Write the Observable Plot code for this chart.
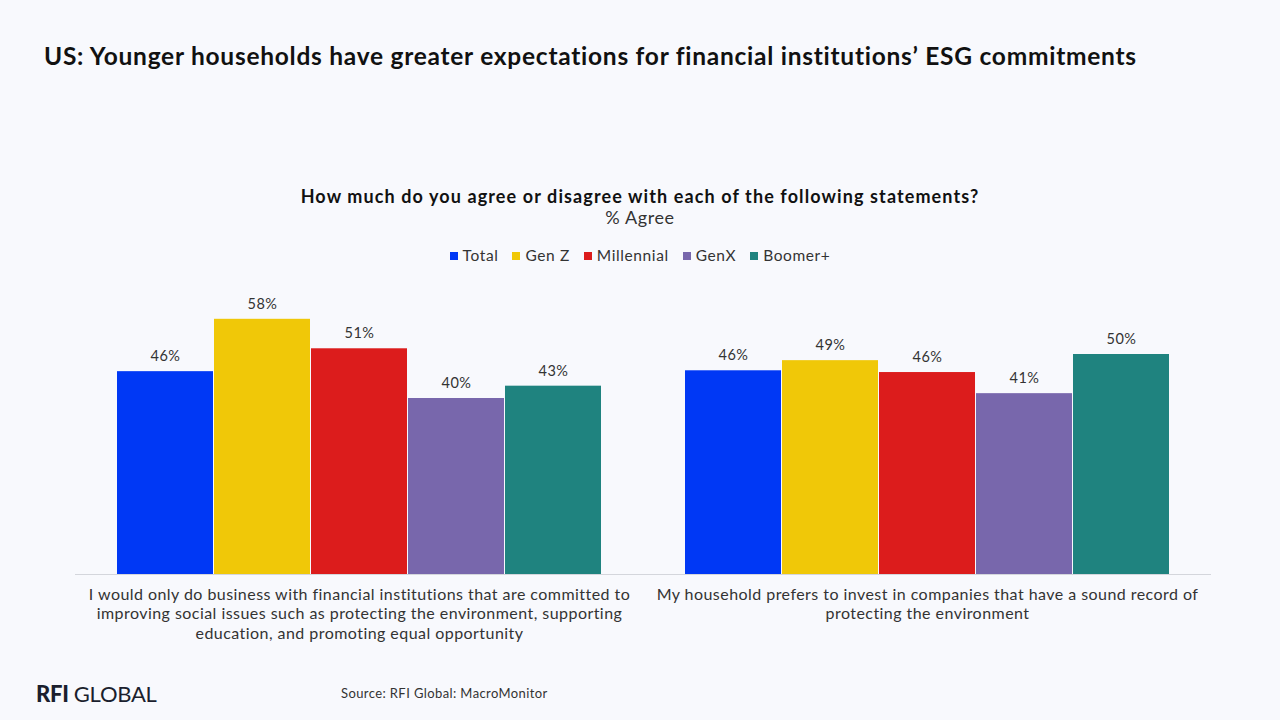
<!DOCTYPE html>
<html>
<head>
<meta charset="utf-8">
<script src="https://cdn.jsdelivr.net/npm/d3@7"></script>
<script src="https://cdn.jsdelivr.net/npm/@observablehq/plot@0.6"></script>
<style>
  html, body { margin: 0; padding: 0; }
  body { width: 1280px; height: 720px; background: #f8f9fd; position: relative; overflow: hidden; font-family: Lato, "Open Sans", sans-serif; color: #222; }
  #title { position: absolute; left: 44px; top: 41px; font-size: 24.5px; font-weight: 700; color: #111; white-space: nowrap; letter-spacing: 0.74px; }
  #sub { position: absolute; left: 0; width: 1280px; top: 185px; text-align: center; font-size: 18px; font-weight: 700; color: #111; letter-spacing: 1.1px; white-space: nowrap; }
  #sub2 { position: absolute; left: 0; width: 1280px; top: 206px; text-align: center; font-size: 18px; color: #333; letter-spacing: 0.6px; }
  #legend { position: absolute; left: 0; width: 1280px; top: 246px; text-align: center; font-size: 15.5px; color: #333; letter-spacing: 0.6px; }
  #legend span.item { margin: 0 7px; white-space: nowrap; }
  #legend span.sw { display: inline-block; width: 8px; height: 8px; margin-right: 5px; vertical-align: 1px; }
  #chart { position: absolute; left: 0; top: 280px; }
  #logo { position: absolute; left: 36px; top: 680px; font-size: 22px; color: #1b1f2e; letter-spacing: -0.3px; }
  #logo b { font-weight: 900; }
  #source { position: absolute; left: 341px; top: 685px; font-size: 13px; color: #333; letter-spacing: 0.4px; }
</style>
</head>
<body>
<div id="title">US: Younger households have greater expectations for financial institutions’ ESG commitments</div>
<div id="sub">How much do you agree or disagree with each of the following statements?</div>
<div id="sub2">% Agree</div>
<div id="legend"></div>
<div id="chart"></div>
<div id="logo"><b>RFI</b> GLOBAL</div>
<div id="source">Source: RFI Global: MacroMonitor</div>
<script>
const statements = [
  "I would only do business with financial institutions that are committed to\nimproving social issues such as protecting the environment, supporting\neducation, and promoting equal opportunity",
  "My household prefers to invest in companies that have a sound record of\nprotecting the environment"
];
const generations = ["Total", "Gen Z", "Millennial", "GenX", "Boomer+"];
const colors = ["#0038f5", "#f0c808", "#dc1c1c", "#7867ac", "#1f837f"];
const valuesStatement1 = [46.1, 58.0, 51.3, 40.0, 42.8];
const valuesStatement2 = [46.3, 48.6, 45.9, 41.1, 50.0];

const data = [];
generations.forEach((g, i) => {
  data.push({statement: statements[0], gen: g, value: valuesStatement1[i]});
  data.push({statement: statements[1], gen: g, value: valuesStatement2[i]});
});

// legend
const legend = document.getElementById("legend");
generations.forEach((g, i) => {
  const s = document.createElement("span");
  s.className = "item";
  s.innerHTML = `<span class="sw" style="background:${colors[i]}"></span>${g}`;
  legend.appendChild(s);
});

const chart = Plot.plot({
  width: 1280,
  height: 380,
  marginLeft: 75,
  marginRight: 69,
  marginTop: 30,
  marginBottom: 86,
  style: { background: "transparent", fontFamily: "Lato, 'Open Sans', sans-serif", letterSpacing: "0.45px" },
  fx: { domain: statements, padding: 0, label: null },
  x: { domain: generations, paddingInner: 0.015, paddingOuter: 0.4085, axis: null },
  y: { domain: [0, 60], axis: null },
  color: { domain: generations, range: colors },
  marks: [
    Plot.barY(data, { fx: "statement", x: "gen", y: "value", fill: "gen" }),
    Plot.ruleY([0], { stroke: "#d4d6dc", strokeWidth: 1 }),
    Plot.text(data, { fx: "statement", x: "gen", y: "value", text: d => Math.round(d.value) + "%", dy: -15, fontSize: 14.5, fill: "#333" }),
    Plot.axisFx({ anchor: "bottom", tickSize: 0, tickPadding: 12, fontSize: 16, fill: "#333", lineHeight: 1.2, label: null, lineAnchor: "top" })
  ]
});
document.getElementById("chart").appendChild(chart);
</script>
</body>
</html>
